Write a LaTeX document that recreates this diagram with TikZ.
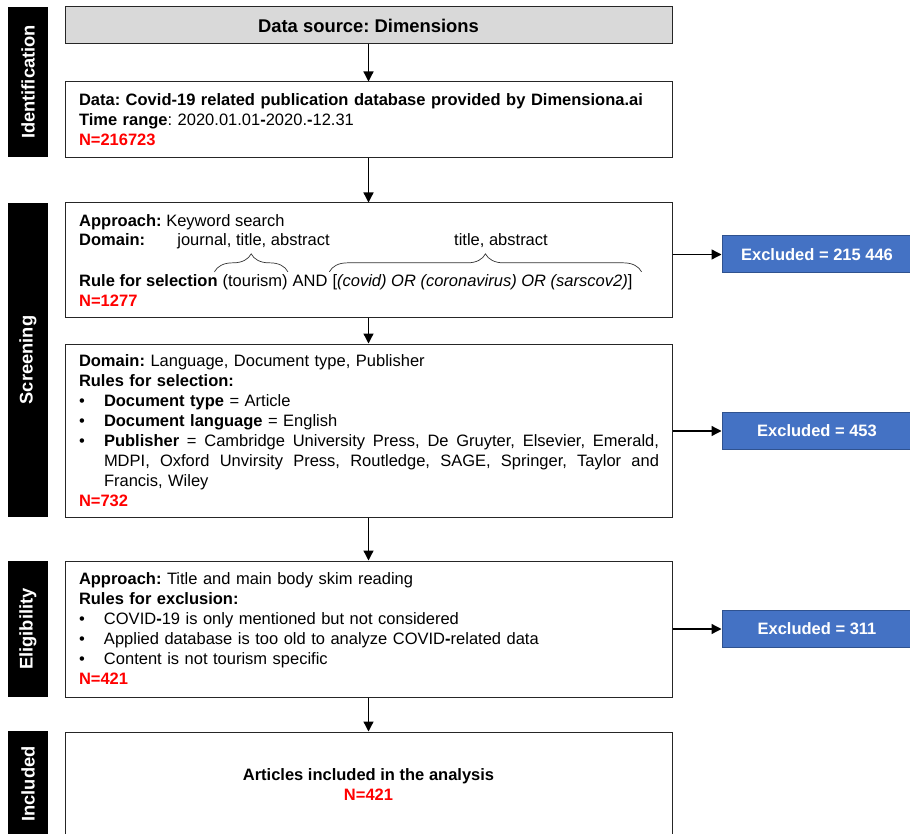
\documentclass[tikz,border=0pt]{standalone}
\usepackage{fontspec}
\setmainfont{Liberation Sans}
\usetikzlibrary{arrows.meta,decorations.pathreplacing,positioning}

\definecolor{exblue}{RGB}{68,114,196}
\definecolor{exedge}{RGB}{47,82,143}
\definecolor{srcgray}{RGB}{217,217,217}
\definecolor{nred}{RGB}{255,0,0}
\newcommand{\bodyfont}{\fontsize{16.5}{20}\selectfont}
\newcommand{\nval}[1]{\textcolor{nred}{\textbf{#1}}}
\newcommand{\bulit}{\makebox[25pt][l]{\textbullet}}
\newcommand{\justline}[1]{\hbox to 555pt{\spaceskip=0.278em plus 1fil\relax #1}}

\tikzset{
  phase/.style={fill=black, text=white, rotate=90, inner sep=0pt, minimum height=40pt,
    font=\fontsize{18.3}{22}\selectfont\bfseries},
  stagebox/.style={draw=black!85, line width=1pt, minimum width=607pt, inner sep=0pt},
  boxtxt/.style={stagebox, text width=579pt, inner xsep=14pt, align=left},
  excl/.style={fill=exblue, draw=exedge, line width=1pt, text=white, font=\bodyfont\bfseries,
    minimum width=190pt, minimum height=37pt},
  txtline/.style={inner sep=0pt, anchor=base west},
  brc/.style={decorate, decoration={brace, amplitude=18pt}, line width=0.7pt, black!80},
  flow/.style={->, line width=1.3pt}
}

\begin{document}
\frenchspacing
\begin{tikzpicture}[x=1pt, y=-1pt, >={Triangle[length=10pt,width=10pt]}, font=\bodyfont]
  \useasboundingbox (0,0) rectangle (910,834);
  % etapas a la izquierda
  \node[phase, minimum width=150pt] (ident) at (28,82) {Identification};
  \node[phase, minimum width=314pt] (screen) at (28,360) {Screening};
  \node[phase, minimum width=136pt] (elig) at (28,629) {Eligibility};
  \node[phase, minimum width=106pt] (inclu) at (28,784) {Included};
  % fuente de datos
  \node[stagebox, fill=srcgray, minimum height=37pt, font=\fontsize{18.4}{22}\selectfont\bfseries]
    (src) at (368.5,25.5) {Data source: Dimensions};
  \node[boxtxt, minimum height=76pt] (data) at (368.5,120) {%
    \textbf{Data: Covid-19 related publication database provided by Dimensiona.ai}\\
    \textbf{Time range}: 2020.01.01\textbf{-}2020.\textbf{-}12.31\\
    \nval{N=216723}};
  % busqueda por palabras clave, texto linea por linea por las llaves
  \node[stagebox, minimum height=114pt] (kwd) at (368.5,260) {};
  \node[txtline] (appr) at (79,227) {\textbf{Approach:} Keyword search};
  \node[txtline] (dom) at (79,246) {\textbf{Domain:}};
  \node[txtline] (rule) at (79,287) {\textbf{Rule for selection}};
  \node[txtline] (tour) at ([xshift=4.6pt]rule.base east) {(tourism)};
  \node[txtline] (and) at ([xshift=4.6pt]tour.base east) {AND};
  \node[txtline] (qry) at ([xshift=4.6pt]and.base east) {[\textit{(covid) OR (coronavirus) OR (sarscov2)}]};
  \node[txtline] (n1277) at (79,306) {\nval{N=1277}};
  \node[inner sep=0pt, anchor=base] (domA) at (253.5,246) {journal, title, abstract};
  \node[inner sep=0pt, anchor=base] (domB) at (501,246) {title, abstract};
  \draw[brc] ([xshift=-8pt,yshift=3pt]tour.north west) -- ([yshift=3pt]tour.north east);
  \draw[brc] ([xshift=-3pt,yshift=3pt]qry.north west) -- ([xshift=9pt,yshift=3pt]qry.north east);
  % filtros de tipo, idioma y editorial
  \node[boxtxt, minimum height=173pt] (filt) at (368.5,430.5) {%
    \textbf{Domain:} Language, Document type, Publisher\\
    \textbf{Rules for selection:}\\
    \bulit\textbf{Document type} = Article\\
    \bulit\textbf{Document language} = English\\
    \bulit\justline{\textbf{Publisher} = Cambridge University Press, De Gruyter, Elsevier, Emerald,}\\
    \hspace*{25pt}\justline{MDPI, Oxford Unvirsity Press, Routledge, SAGE, Springer, Taylor and}\\
    \hspace*{25pt}Francis, Wiley\\
    \nval{N=732}};
  % lectura rapida
  \node[boxtxt, minimum height=136pt] (skim) at (368.5,629) {%
    \textbf{Approach:} Title and main body skim reading\\
    \textbf{Rules for exclusion:}\\
    \bulit COVID\textbf{-}19 is only mentioned but not considered\\
    \bulit Applied database is too old to analyze COVID\textbf{-}related data\\
    \bulit Content is not tourism specific\\
    \nval{N=421}};
  \node[stagebox, minimum height=105pt, align=center] (final) at (368.5,784.5) {%
    \textbf{Articles included in the analysis}\\ \nval{N=421}};
  % excluidos
  \node[excl] (ex1) at (817,254.5) {Excluded = 215 446};
  \node[excl] (ex2) at (817,431) {Excluded = 453};
  \node[excl] (ex3) at (817,629) {Excluded = 311};
  % flechas
  \draw[flow] (src) -- (data);
  \draw[flow] (data) -- (kwd);
  \draw[flow] (kwd) -- (filt);
  \draw[flow] (filt) -- (skim);
  \draw[flow] (skim) -- (final);
  \draw[flow] (kwd.east |- ex1) -- (ex1);
  \draw[flow] (filt.east |- ex2) -- (ex2);
  \draw[flow] (skim.east |- ex3) -- (ex3);
\end{tikzpicture}
\end{document}
